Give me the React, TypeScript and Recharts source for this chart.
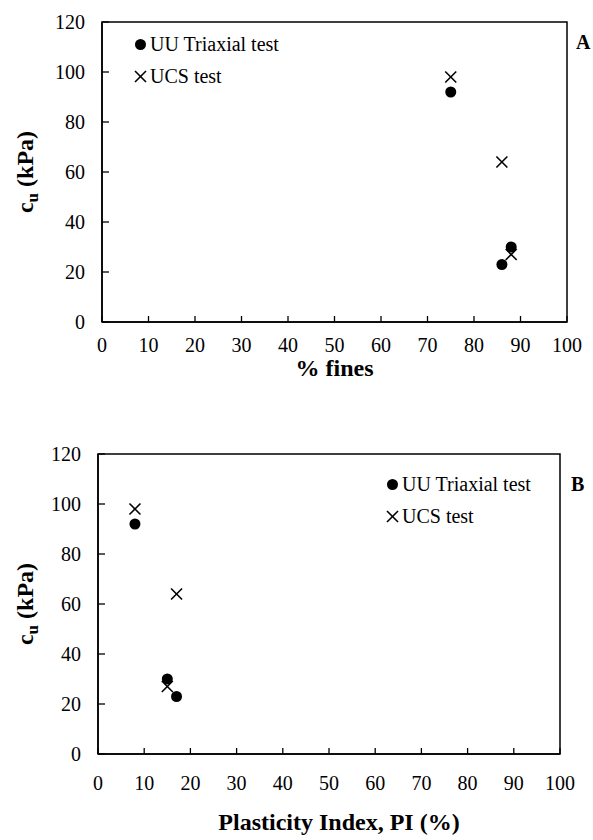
import React from "react";
import {
  ScatterChart,
  Scatter,
  XAxis,
  YAxis,
  Legend,
  ReferenceArea,
} from "recharts";

// three soil samples, same order in every array
const fines = [75, 86, 88];
const plasticity = [8, 17, 15];
const cuTriaxial = [92, 23, 30];
const cuUcs = [98, 64, 27];

const xTicks = [0, 10, 20, 30, 40, 50, 60, 70, 80, 90, 100];
const yTicks = [0, 20, 40, 60, 80, 100, 120];
const seriesNames = ["UU Triaxial test", "UCS test"];

const FONT = "'Times New Roman', 'Liberation Serif', serif";

const pts = (xs: number[], ys: number[]) => xs.map((x, i) => ({ x, y: ys[i] }));

const Dot = (p: any) => <circle cx={p.cx} cy={p.cy} r={5.5} fill="#000" />;
const Cross = (p: any) => (
  <g stroke="#000" strokeWidth={1.6}>
    <line x1={p.cx - 5.5} y1={p.cy - 5.5} x2={p.cx + 5.5} y2={p.cy + 5.5} />
    <line x1={p.cx - 5.5} y1={p.cy + 5.5} x2={p.cx + 5.5} y2={p.cy - 5.5} />
  </g>
);

function LegendBox() {
  return (
    <div style={{ fontFamily: FONT, fontSize: 20, color: "#000", lineHeight: "32px" }}>
      {seriesNames.map((name, i) => (
        <div key={name} style={{ display: "flex", alignItems: "center", whiteSpace: "nowrap" }}>
          <svg width={13} height={13} style={{ marginRight: 3 }}>
            {i === 0 ? <Dot cx={6.5} cy={6.5} /> : <Cross cx={6.5} cy={6.5} />}
          </svg>
          {name}
        </div>
      ))}
    </div>
  );
}

const cuTitle = (shift: number) => (props: any) => {
  const vb = props.viewBox;
  const cx = 33;
  const y = vb.y + vb.height / 2 + shift;
  return (
    <text
      x={cx}
      y={y}
      transform={`rotate(-90, ${cx}, ${y})`}
      textAnchor="middle"
      fontFamily={FONT}
      fontWeight="bold"
      fontSize={24}
      fill="#000"
    >
      c<tspan dy={5} fontSize={17}>u</tspan>
      <tspan dy={-5}> (kPa)</tspan>
    </text>
  );
};

const xTitle = (text: string, dx: number, dy: number) => (props: any) => {
  const vb = props.viewBox;
  return (
    <text
      x={vb.x + vb.width / 2 + dx}
      y={vb.y + dy}
      textAnchor="middle"
      fontFamily={FONT}
      fontWeight="bold"
      fontSize={24}
      fill="#000"
    >
      {text}
    </text>
  );
};

const tickStyle = { fill: "#000", fontSize: 20, fontFamily: FONT };
const axisLine = { stroke: "#000", strokeWidth: 1.5 };
const tickLine = { stroke: "#000", strokeWidth: 1.3 };

function Panel({
  xs,
  width,
  height,
  margin,
  yWidth,
  xHeight,
  xTickMargin,
  title,
  titleDx,
  titleDy,
  legendPos,
}: {
  xs: number[];
  width: number;
  height: number;
  margin: { top: number; right: number; bottom: number; left: number };
  yWidth: number;
  xHeight: number;
  xTickMargin: number;
  title: string;
  titleDx: number;
  titleDy: number;
  legendPos: { top: number; left: number };
}) {
  return (
    <ScatterChart width={width} height={height} margin={margin} style={{ fontFamily: FONT }}>
      <XAxis
        type="number"
        dataKey="x"
        domain={[0, 100]}
        ticks={xTicks}
        interval={0}
        height={xHeight}
        tick={tickStyle}
        axisLine={axisLine}
        tickLine={tickLine}
        tickSize={-6}
        tickMargin={xTickMargin}
        label={{ content: xTitle(title, titleDx, titleDy) }}
      />
      <YAxis
        type="number"
        dataKey="y"
        domain={[0, 120]}
        ticks={yTicks}
        interval={0}
        width={yWidth}
        tick={tickStyle}
        axisLine={axisLine}
        tickLine={tickLine}
        tickSize={-7}
        tickMargin={24}
        label={{ content: cuTitle(0) }}
      />
      <ReferenceArea x1={0} x2={100} y1={0} y2={120} fill="none" stroke="#000" strokeWidth={1.5} />
      <Legend
        layout="vertical"
        align="center"
        verticalAlign="middle"
        wrapperStyle={{ top: legendPos.top, left: legendPos.left, width: "auto", height: "auto" }}
        content={() => <LegendBox />}
      />
      <Scatter name={seriesNames[0]} data={pts(xs, cuTriaxial)} shape={Dot} isAnimationActive={false} />
      <Scatter name={seriesNames[1]} data={pts(xs, cuUcs)} shape={Cross} isAnimationActive={false} />
    </ScatterChart>
  );
}

export default function App() {
  return (
    <div
      style={{
        position: "absolute",
        left: 0,
        top: 0,
        width: 593,
        height: 840,
        background: "#fff",
        fontFamily: FONT,
      }}
    >
      <div style={{ position: "absolute", left: 0, top: 0 }}>
        <Panel
          xs={fines}
          width={593}
          height={420}
          margin={{ top: 22, right: 26, bottom: 0, left: 0 }}
          yWidth={102}
          xHeight={98}
          xTickMargin={22}
          title="% fines"
          titleDx={0}
          titleDy={54}
          legendPos={{ top: 28, left: 134 }}
        />
      </div>
      <div style={{ position: "absolute", left: 0, top: 430 }}>
        <Panel
          xs={plasticity}
          width={593}
          height={410}
          margin={{ top: 24, right: 33, bottom: 0, left: 0 }}
          yWidth={98}
          xHeight={86}
          xTickMargin={28}
          title="Plasticity Index, PI (%)"
          titleDx={10}
          titleDy={76}
          legendPos={{ top: 38, left: 386 }}
        />
      </div>
      <span style={{ position: "absolute", left: 576, top: 31, fontSize: 20, fontWeight: "bold" }}>A</span>
      <span style={{ position: "absolute", left: 571, top: 473, fontSize: 20, fontWeight: "bold" }}>B</span>
    </div>
  );
}
